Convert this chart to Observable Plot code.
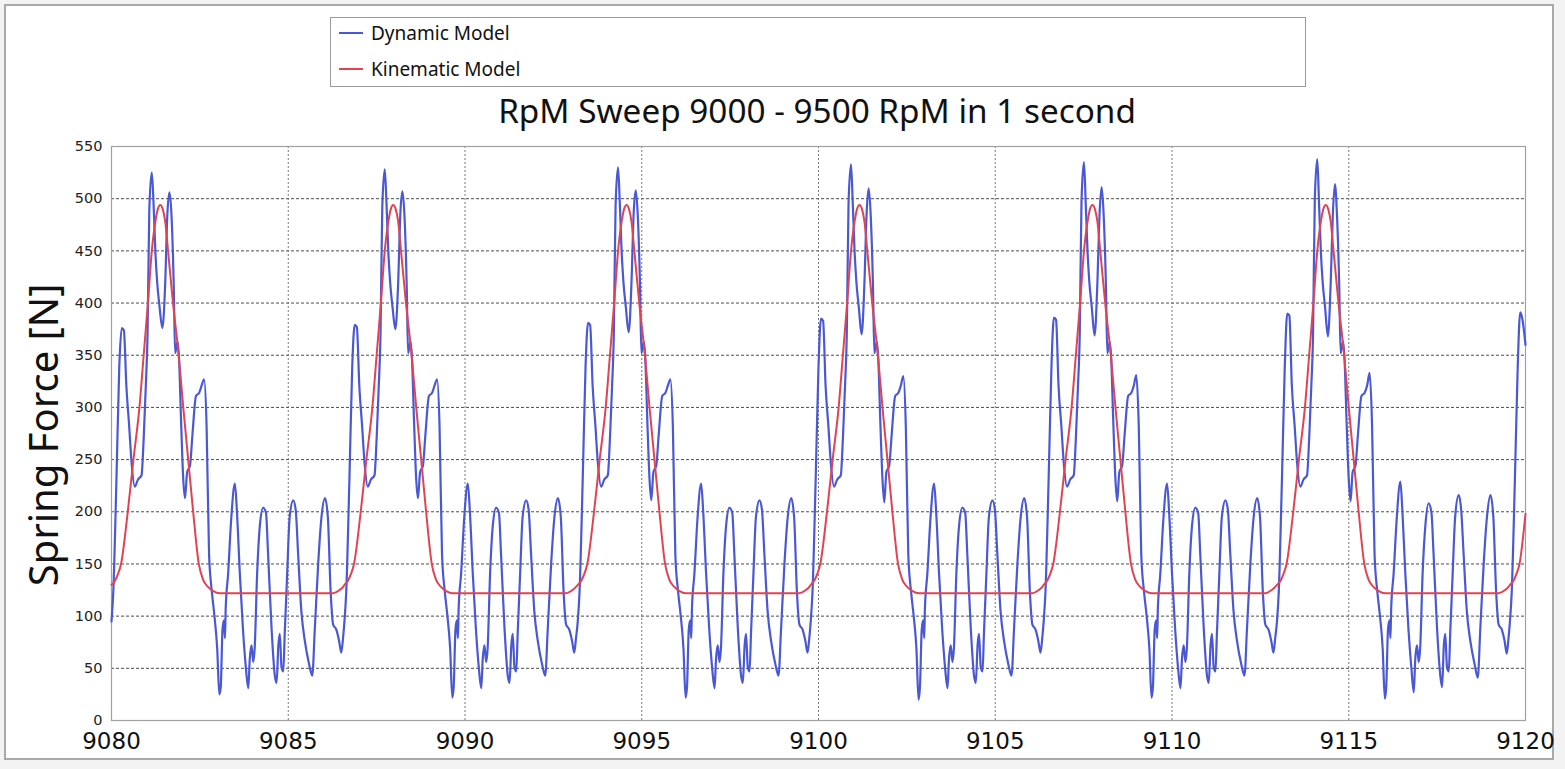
<!DOCTYPE html>
<html>
<head>
<meta charset="utf-8">
<script src="https://cdn.jsdelivr.net/npm/d3@7"></script>
<script src="https://cdn.jsdelivr.net/npm/@observablehq/plot@0.6"></script>
<style>
  html, body { margin: 0; padding: 0; background: #f3f3f3; }
  #wrap { position: relative; width: 1565px; height: 769px; overflow: hidden; }
  #page { position: absolute; left: 4px; top: 4px; width: 1546px; height: 752px; border: 2px solid #a9a9a9; background: #fff; }
  #chart { position: absolute; left: 0; top: 0; }
  #legend { position: absolute; left: 330px; top: 17px; width: 974px; height: 68px; border: 1px solid #9a9a9a; background: #fff; font-family: "Noto Sans", sans-serif; font-size: 19px; color: #111; }
  .item { position: absolute; left: 8px; height: 20px; display: flex; align-items: center; }
  .swatch { width: 24px; height: 2px; margin-right: 8px; }
  #title { position: absolute; left: 317px; top: 87px; width: 1000px; text-align: center; font-family: "Noto Sans", sans-serif; font-size: 33.3px; color: #111; white-space: nowrap; }
  #ylabel { position: absolute; left: 42px; top: 435px; transform: translate(-50%, -50%) rotate(-90deg); font-family: "Noto Sans", sans-serif; font-size: 40px; color: #111; white-space: nowrap; }
  #chart [aria-label="x-axis tick label"] text { font-size: 23px; font-family: "DejaVu Sans", sans-serif; fill: #111; }
  #chart [aria-label="y-axis tick label"] text { font-size: 14.5px; font-family: "DejaVu Sans", sans-serif; fill: #222; }
</style>
</head>
<body>
<div id="wrap">
  <div id="page"></div>
  <div id="chart"></div>
  <div id="legend">
    <div class="item" style="top:5px"><div class="swatch" style="background:#4a58d4"></div><span>Dynamic Model</span></div>
    <div class="item" style="top:41px"><div class="swatch" style="background:#e04452"></div><span>Kinematic Model</span></div>
  </div>
  <div id="title">RpM Sweep 9000 - 9500 RpM in 1 second</div>
  <div id="ylabel">Spring Force [N]</div>
</div>
<script>
// ---- tick labels ----
const xTicks = [9080, 9085, 9090, 9095, 9100, 9105, 9110, 9115, 9120];
const yTicks = [0, 50, 100, 150, 200, 250, 300, 350, 400, 450, 500, 550];
const xGrid = [9085, 9090, 9095, 9100, 9105, 9110, 9115];
const yGrid = [50, 100, 150, 200, 250, 300, 350, 400, 450, 500];

// ---- cycle start times (one cam revolution each) ----
const cycleStart = [9080.00, 9086.59, 9093.19, 9099.78, 9106.37, 9112.97];

// ---- Dynamic Model: sample times within a cycle and values per cycle ----
const dynOffsets = [0.00,0.05,0.14,0.22,0.29,0.35,0.42,0.50,0.57,0.66,
  0.75,0.85,0.91,0.97,1.02,1.07,1.14,1.19,1.24,1.29,
  1.36,1.44,1.52,1.58,1.64,1.70,1.76,1.80,1.87,1.91,
  1.97,2.03,2.08,2.14,2.22,2.29,2.39,2.48,2.55,2.62,
  2.69,2.76,2.84,2.91,2.99,3.05,3.09,3.14,3.18,3.21,
  3.23,3.30,3.39,3.49,3.55,3.63,3.72,3.80,3.87,3.91,
  3.96,4.01,4.05,4.12,4.20,4.29,4.37,4.43,4.53,4.62,
  4.67,4.72,4.76,4.81,4.86,4.90,4.97,5.04,5.14,5.21,
  5.28,5.37,5.47,5.59,5.68,5.75,5.85,5.94,6.04,6.12,
  6.20,6.27,6.36,6.44,6.50,6.55];

const dynCycle1 = [95,123,231,339,376,374,321,282,246,224, 231,235,270,320,370,490,525,495,450,421,
  396,376,420,485,506,482,418,352,363,347, 285,231,213,238,244,274,311,314,321,327,
  282,159,123,101,69,25,32,87,96,79, 107,141,195,227,199,141,87,51,31,58,
  72,56,69,141,188,204,199,159,87,43, 36,72,83,51,47,83,141,195,211,202,
  159,105,76,54,43,87,152,195,213,195, 123,92,87,76,65,79];
const dynCycle2 = [95,123,231,339,379,377,321,282,246,224, 231,235,270,320,370,492,528,495,450,421,
  396,375,420,485,507,482,418,352,363,347, 285,231,213,238,244,274,311,314,321,327,
  282,159,123,101,69,22,32,87,96,79, 107,141,195,227,199,141,87,51,31,58,
  72,56,69,141,188,204,199,159,87,43, 36,72,83,51,47,83,141,195,211,202,
  159,105,76,54,43,87,152,195,213,195, 123,92,87,76,65,79];
const dynCycle3 = [95,123,231,339,381,379,321,282,246,224, 231,235,270,320,370,494,530,495,450,421,
  396,372,420,485,508,482,418,352,363,347, 285,231,211,238,244,274,311,314,321,327,
  282,159,123,101,69,22,32,87,96,79, 107,141,195,227,199,141,87,51,31,58,
  72,56,69,141,188,204,199,159,87,43, 36,72,83,51,47,83,141,195,211,202,
  159,105,76,54,43,87,152,195,213,195, 123,92,87,76,65,79];
const dynCycle4 = [95,123,231,339,385,383,321,282,246,224, 231,235,270,320,370,496,533,495,450,421,
  396,370,420,485,510,482,418,352,363,347, 285,231,209,238,244,274,311,314,321,330,
  282,159,123,101,69,20,32,87,96,79, 107,141,195,227,199,141,87,51,31,58,
  72,56,69,141,188,204,199,159,87,43, 36,72,83,51,47,83,141,195,211,202,
  159,105,76,54,43,87,152,195,213,195, 123,92,87,76,65,79];
const dynCycle5 = [95,123,231,339,386,384,321,282,246,224, 231,235,270,320,370,498,535,495,450,421,
  396,369,420,485,511,482,418,352,363,347, 285,231,210,238,244,274,311,314,321,331,
  282,159,123,101,69,22,32,87,96,79, 107,141,195,227,199,141,87,51,31,58,
  72,56,69,141,188,204,199,159,87,43, 36,72,83,51,47,83,141,195,211,202,
  159,105,76,54,43,87,152,195,213,195, 123,92,87,76,65,79];
const dynCycle6 = [95,123,231,339,390,388,321,282,246,224, 231,235,270,320,370,500,538,495,450,421,
  396,368,420,485,514,482,418,352,363,347, 285,231,210,238,244,274,311,314,321,333,
  282,159,123,101,69,21,32,87,96,79, 107,141,195,229,199,141,87,51,27,58,
  72,56,69,141,188,208,199,159,87,43, 32,72,83,51,47,83,141,195,216,202,
  159,105,76,54,41,87,152,195,216,195, 123,92,87,76,64,79];
// last partial cycle at the right edge
const dynTailTimes = [9119.56, 9119.61, 9119.70, 9119.78, 9119.85, 9119.91, 9120.00];
const dynTail = [95, 123, 231, 339, 391, 385, 360];

// ---- Kinematic Model: sample times within a cycle and values ----
const kinOffsets = [0.00,0.10,0.18,0.27,0.46,0.62,0.79,0.91,1.03,1.14,1.25,1.31,1.38,1.45,1.52,
  1.60,1.74,1.90,2.03,2.17,2.31,2.47,2.59,2.73,2.88,3.06,6.27,6.45,6.55];
const kinCycle = [130,134,140,150,200,250,300,350,400,450,480,490,494,490,478,
  450,400,350,300,250,200,150,135,128,124,122,122,125,128];
const kinTailTimes = [9119.56, 9119.66, 9119.74, 9119.83, 9120.00];
const kinTail = [130, 134, 140, 150, 198];

// ---- build tables ----
const dynCycles = [dynCycle1, dynCycle2, dynCycle3, dynCycle4, dynCycle5, dynCycle6];
const dynamic = [];
dynCycles.forEach((vals, k) => vals.forEach((v, i) => dynamic.push({t: cycleStart[k] + dynOffsets[i], f: v})));
dynTail.forEach((v, i) => dynamic.push({t: dynTailTimes[i], f: v}));

const kinematic = [];
cycleStart.forEach(s => kinCycle.forEach((v, i) => kinematic.push({t: s + kinOffsets[i], f: v})));
kinTail.forEach((v, i) => kinematic.push({t: kinTailTimes[i], f: v}));

const chart = Plot.plot({
  width: 1565,
  height: 769,
  marginLeft: 111,
  marginRight: 40,
  marginTop: 146,
  marginBottom: 49,
  style: {background: "transparent", overflow: "visible"},
  x: {domain: [9080, 9120]},
  y: {domain: [0, 550]},
  marks: [
    Plot.gridY(yGrid, {stroke: "#3a3a3a", strokeOpacity: 0.9, strokeDasharray: "3,2"}),
    Plot.gridX(xGrid, {stroke: "#6a6a6a", strokeOpacity: 0.9, strokeDasharray: "2,2"}),
    Plot.frame({stroke: "#a0a0a0", strokeWidth: 1.2}),
    Plot.line(dynamic, {x: "t", y: "f", stroke: "#4a58d4", strokeWidth: 2.2, curve: "monotone-x"}),
    Plot.line(kinematic, {x: "t", y: "f", stroke: "#e04452", strokeWidth: 2, curve: "monotone-x"}),
    Plot.axisY(yTicks, {tickSize: 0, tickPadding: 9, label: null}),
    Plot.axisX(xTicks, {tickSize: 0, tickPadding: 12, label: null, tickFormat: d => String(d)})
  ]
});
document.getElementById("chart").appendChild(chart);
</script>
</body>
</html>
